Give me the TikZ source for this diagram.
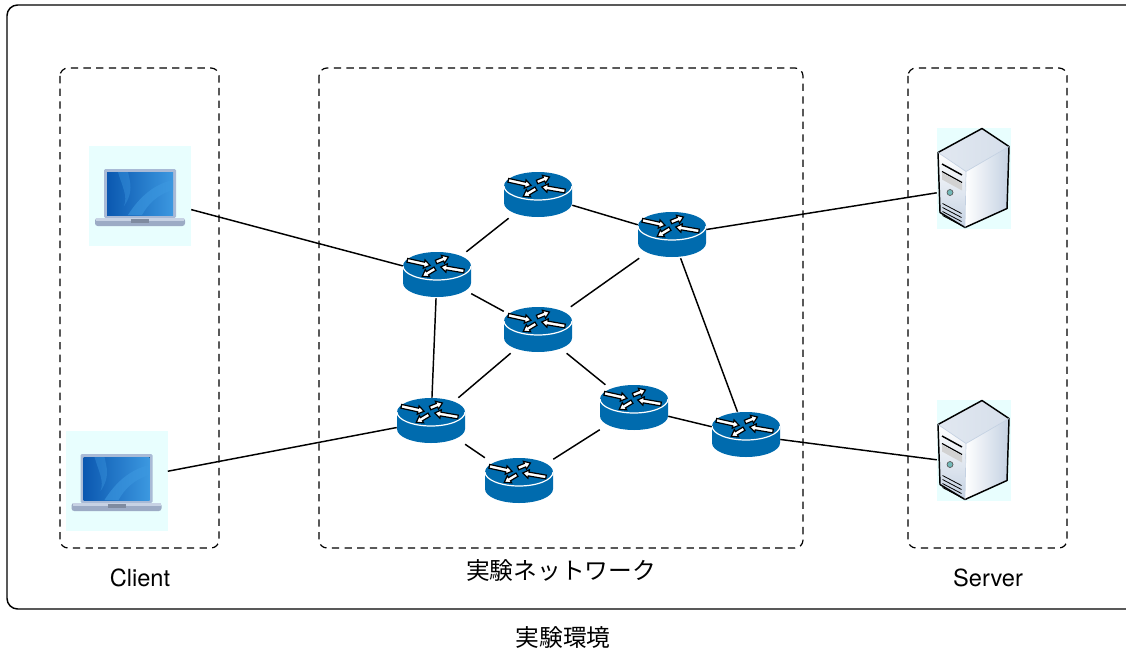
\documentclass[tikz,border=0pt]{standalone}
\usepackage{fontspec}
\setmainfont{TeX Gyre Heros}
\newfontfamily\jpfont{Noto Sans CJK JP}
\definecolor{routerblue}{HTML}{006BAE}
\definecolor{iconback}{HTML}{E8FEFE}
\definecolor{framegrey}{HTML}{A9BAD6}
\definecolor{screenblue}{HTML}{0B58B0}
\definecolor{screenlight}{HTML}{3C98E0}
\definecolor{servershade}{HTML}{C4D1E2}
\newcommand{\routerarrow}[4]{
\pgfmathsetmacro\ang{atan2(-((#4)-(#2)),(#3)-(#1))}
\pgfmathsetmacro\len{veclen((#3)-(#1),(#4)-(#2))}
\filldraw[fill=white,draw=black,line width=.9pt,shift={(#1,#2)},rotate=\ang]
(0,-1.9) -- (\len-6,-1.9) -- (\len-6,-4.2) -- (\len,0) -- (\len-6,4.2) -- (\len-6,1.9) -- (0,1.9) -- cycle;
}
\tikzset{
routericon/.pic={
\fill[routerblue] (-34,-9) -- (-34,8) arc[x radius=34,y radius=14,start angle=180,end angle=0] -- (34,-9) arc[x radius=34,y radius=14,start angle=0,end angle=-180] -- cycle;
\draw[white,line width=.9pt] (-34,-9) arc[x radius=34,y radius=14,start angle=180,end angle=0];
\routerarrow{-29.7}{-14.7}{-7}{-9.7}
\routerarrow{-1}{-13}{11.5}{-18}
\routerarrow{27}{-4}{3.7}{-8}
\routerarrow{-2}{-6.3}{-14.7}{1.3}
},
laptopicon/.pic={
\fill[framegrey,rounded corners=1pt] (-36,-27) rectangle (36,22);
\fill[left color=screenblue,right color=screenlight] (-33,-24) rectangle (33,19);
\fill[screenlight,opacity=.6] (-12,19) .. controls (0,0) and (15,-12) .. (33,-16) -- (33,-6) .. controls (18,-2) and (8,8) .. (2,19) -- cycle;
\fill[screenlight,opacity=.4] (-22,-24) .. controls (-18,-10) and (-12,0) .. (-16,10) .. controls (-6,-4) and (-10,-14) .. (-12,-24) -- cycle;
\fill[framegrey!92!black,rounded corners=2pt] (-45,22) rectangle (45,30);
\fill[framegrey!65!white] (-44,22) rectangle (44,25);
\fill[framegrey!75!black] (-9,23) rectangle (9,27);
},
servericon/.pic={
\shade[top color=white,bottom color=servershade] (-36,-26) -- (-8,-7) -- (-9,49) -- (-34,34) -- cycle;
\shade[left color=white,right color=servershade] (-8,-7) -- (35,-32) -- (33,30) -- (-9,49) -- cycle;
\shade[left color=servershade!50,right color=servershade!70] (8,-50) -- (35,-32) -- (-8,-7) -- (-36,-26) -- cycle;
\draw[line width=1.1pt,line join=round] (8,-50) -- (35,-32) -- (33,30) -- (-9,49) -- (-34,34) -- (-36,-26) -- cycle;
\draw[servershade,line width=.5pt] (-36,-26) -- (-8,-7) -- (35,-32) (-8,-7) -- (-9,49);
\draw[line width=1.1pt] (-32,-14.5) -- (-12,-3.5);
\draw[line width=.9pt] (-32,-7) -- (-12,4);
\fill[gray!35] (-32,-6) -- (-12,5) -- (-12,12) -- (-32,1) -- cycle;
\filldraw[fill=teal!55,draw=gray!70!black,line width=.5pt] (-24,14) circle[radius=3];
\foreach \k in {0,4,8,12} \draw[line width=.6pt] (-31.5,25+\k) -- (-12.5,35+\k);
},
groupbox/.style={draw,dashed,dash pattern=on 5.5pt off 4pt,line width=.9pt,rounded corners=6pt},
routernode/.style={minimum width=51pt,minimum height=34.5pt,inner sep=0pt},
clientnode/.style={fill=iconback,minimum width=76.5pt,minimum height=75pt,inner sep=0pt},
servernode/.style={fill=iconback,minimum width=55.5pt,minimum height=75.75pt,inner sep=0pt},
link/.style={line width=1.1pt},
label/.style={font=\fontsize{17.7pt}{20pt}\selectfont,inner sep=0pt},
jplabel/.style={font=\fontsize{17.8pt}{20pt}\selectfont\jpfont,inner sep=0pt}
}
\begin{document}
\begin{tikzpicture}[x=.75pt,y=-.75pt]
\useasboundingbox (0,0) rectangle (1126,649);
\draw[line width=1.1pt,rounded corners=8pt] (1126,5) -- (7,5) -- (7,609) -- (1126,609);
\draw[groupbox] (60,68) rectangle (219,548);
\draw[groupbox] (319,68) rectangle (803,548);
\draw[groupbox] (908,68) rectangle (1067,548);

\node (client1) at (140,196) [clientnode] {};
\node (client2) at (116.5,481) [clientnode] {};
\node (server1) at (974,178.5) [servernode] {};
\node (server2) at (974,450.5) [servernode] {};
\node (r1) at (538,195) [routernode] {};
\node (r2) at (672,235) [routernode] {};
\node (r3) at (437,275) [routernode] {};
\node (r4) at (538,330) [routernode] {};
\node (r5) at (431,421) [routernode] {};
\node (r6) at (634,408) [routernode] {};
\node (r7) at (519,481) [routernode] {};
\node (r8) at (746,435) [routernode] {};

\foreach \n in {r1,r2,r3,r4,r5,r6,r7,r8} \pic at (\n) {routericon};
\foreach \n in {client1,client2} \pic at (\n) {laptopicon};
\foreach \n in {server1,server2} \pic at (\n) {servericon};

\draw[link]
(client1) to (r3)
(client2) to (r5)
(r3) to (r1)
(r1) to (r2)
(r2) to (server1.201)
(r3) to (r4)
(r2) to (r4)
(r3) to (r5)
(r4) to (r5)
(r4) to (r6)
(r2) to (r8)
(r6) to (r8)
(r5) to (r7)
(r7) to (r6)
(r8) to (server2.194);

\node (clientlabel) at (140,578) [label] {Client};
\node (serverlabel) at (988,578) [label] {Server};
\node (netlabel) at (561,570) [jplabel] {実験ネットワーク};
\node (envlabel) at (563,637.5) [jplabel] {実験環境};
\end{tikzpicture}
\end{document}
